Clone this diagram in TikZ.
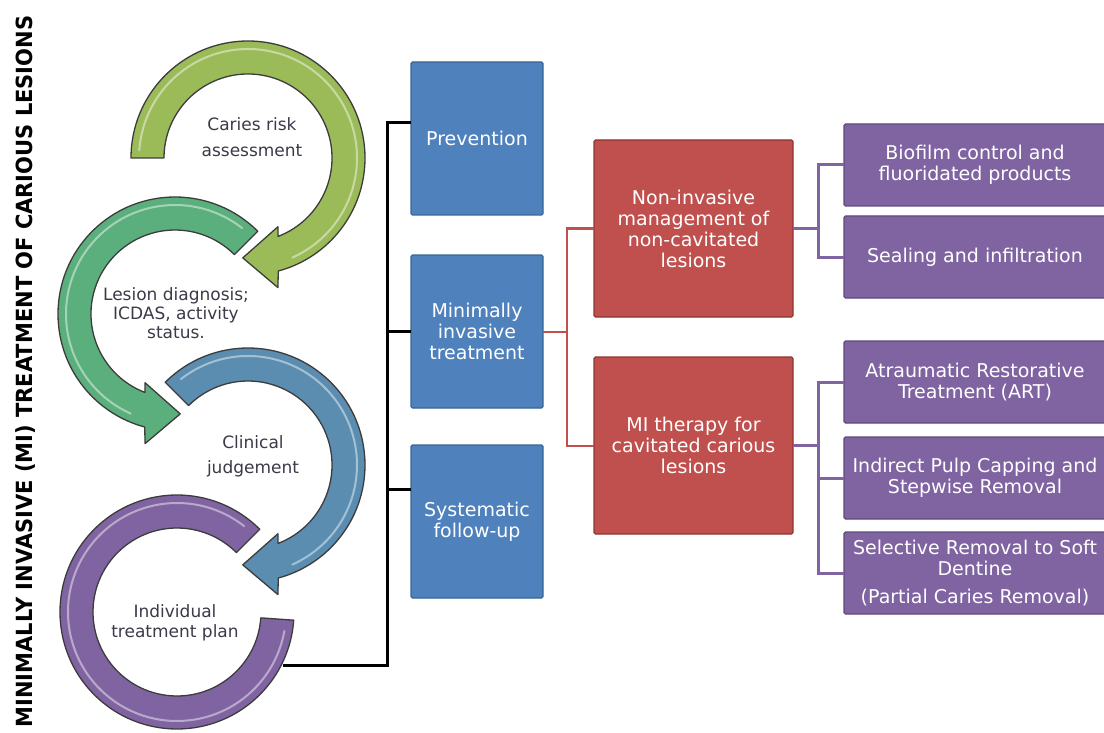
\documentclass[tikz,border=0pt]{standalone}
\usepackage{fontspec}
\setmainfont{DejaVu Sans}
\usetikzlibrary{calc}
\definecolor{ringA}{HTML}{9BBB59}
\definecolor{ringB}{HTML}{5BAF7D}
\definecolor{ringC}{HTML}{5B8DB0}
\definecolor{ringD}{HTML}{8064A2}
\definecolor{blueF}{HTML}{4F81BD}
\definecolor{blueD}{HTML}{3A6595}
\definecolor{redF}{HTML}{C0504D}
\definecolor{redD}{HTML}{8E3532}
\definecolor{purF}{HTML}{8064A2}
\definecolor{purD}{HTML}{5E4A7C}
\definecolor{lbl}{HTML}{3A3A48}
\definecolor{ringEdge}{HTML}{3C3C3C}
\begin{document}
\begin{tikzpicture}[x=1pt,y=1pt,
  ringshape/.style={draw=ringEdge, line width=1.3pt, line join=round},
  shine/.style={draw=white, line width=2pt, opacity=0.45, line cap=round},
  boxbase/.style={rectangle, inner sep=0pt, outer sep=0pt, line width=1.2pt, text=white, align=center, rounded corners=1.5pt,
    font=\fontsize{19}{21}\selectfont},
  bluebox/.style={boxbase, draw=blueD, fill=blueF, minimum width=132pt, minimum height=153pt, anchor=north west},
  redbox/.style={boxbase, draw=redD, fill=redF, minimum width=199pt, minimum height=177pt, anchor=north west},
  purbox/.style={boxbase, draw=purD, fill=purF, minimum width=262pt, minimum height=82pt, anchor=north west},
  lbltext/.style={text=lbl, align=center, inner sep=0pt},
  blk/.style={draw=black, line width=3pt},
  redl/.style={draw=redF, line width=2pt},
  purl/.style={draw=purF, line width=3pt}
]
\useasboundingbox (0,0) rectangle (1104,-733);

% title
\node[rotate=90, anchor=base, inner sep=0pt, font=\bfseries\fontsize{21}{21}\selectfont] (title) at (32,-371.5)
  {\scalebox{1}[1.06]{MINIMALLY INVASIVE (MI) TREATMENT OF CARIOUS LESIONS}};

% ring centres
\coordinate (cA) at (248,-158);
\coordinate (cB) at (175,-314);
\coordinate (cC) at (248,-465);
\coordinate (cD) at (177,-612);

% ring D (purple)
\path[ringshape, fill=ringD] ([shift={(45:117pt)}]cD) arc[start angle=45, end angle=356, radius=117pt]
  -- ([shift={(356:84pt)}]cD) arc[start angle=356, end angle=45, radius=84pt] -- cycle;
\draw[shine] ([shift={(52:109pt)}]cD) arc[start angle=52, end angle=350, radius=109pt];

% ring C (blue)
\path[ringshape, fill=ringC] ([shift={(135:117pt)}]cC) arc[start angle=135, end angle=-75, radius=117pt]
  -- ([shift={(-77:133pt)}]cC) -- ([shift={(-93:100pt)}]cC) -- ([shift={(-66.5:75pt)}]cC)
  -- ([shift={(-69:84pt)}]cC) arc[start angle=-69, end angle=135, radius=84pt] -- cycle;
\draw[shine] ([shift={(128:109pt)}]cC) arc[start angle=128, end angle=-66, radius=109pt];

% ring B (green)
\path[ringshape, fill=ringB] ([shift={(45:117pt)}]cB) arc[start angle=45, end angle=255, radius=117pt]
  -- ([shift={(257:133pt)}]cB) -- ([shift={(273:100pt)}]cB) -- ([shift={(246.5:75pt)}]cB)
  -- ([shift={(249:84pt)}]cB) arc[start angle=249, end angle=45, radius=84pt] -- cycle;
\draw[shine] ([shift={(52:109pt)}]cB) arc[start angle=52, end angle=246, radius=109pt];

% ring A (yellow green)
\path[ringshape, fill=ringA] ([shift={(180:117pt)}]cA) arc[start angle=180, end angle=-75, radius=117pt]
  -- ([shift={(-77:133pt)}]cA) -- ([shift={(-93:100pt)}]cA) -- ([shift={(-66.5:75pt)}]cA)
  -- ([shift={(-69:84pt)}]cA) arc[start angle=-69, end angle=180, radius=84pt] -- cycle;
\draw[shine] ([shift={(176:109pt)}]cA) arc[start angle=176, end angle=-66, radius=109pt];

% ring labels
\node[lbltext, font=\fontsize{17}{26}\selectfont] (la) at (252,-137) {Caries risk\\assessment};
\node[lbltext, font=\fontsize{17}{19}\selectfont] (lb) at (176,-313) {Lesion diagnosis;\\ICDAS, activity\\status.};
\node[lbltext, font=\fontsize{17}{25}\selectfont] (lc) at (253,-456) {Clinical\\judgement};
\node[lbltext, font=\fontsize{17}{20}\selectfont] (ld) at (175,-623) {Individual\\treatment plan};

% boxes
\node[bluebox] (prev) at (411,-62) {Prevention};
\node[bluebox] (mit) at (411,-255) {Minimally\\invasive\\treatment};
\node[bluebox] (sfu) at (411,-445) {Systematic\\follow-up};
\node[redbox] (nim) at (594,-140) {Non-invasive\\management of\\non-cavitated\\lesions};
\node[redbox] (mic) at (594,-357) {MI therapy for\\cavitated carious\\lesions};
\node[purbox] (bio) at (844,-124) {Biofilm control and\\fluoridated products};
\node[purbox] (seal) at (844,-216) {Sealing and infiltration};
\node[purbox] (art) at (844,-341) {Atraumatic Restorative\\Treatment (ART)};
\node[purbox] (ipc) at (844,-437) {Indirect Pulp Capping and\\Stepwise Removal};
\node[purbox] (sel) at (844,-532) {Selective Removal to Soft\\Dentine\\[7pt](Partial Caries Removal)};

% connectors
\coordinate (planend) at (283,-665);
\draw[blk, line join=miter] (planend) -| ([xshift=-24pt,yshift=15.5pt]prev.west) -- ([yshift=15.5pt]prev.west);
\draw[blk] ([xshift=-24pt]mit.west) -- (mit.west);
\draw[blk] ([xshift=-24pt,yshift=32.5pt]sfu.west) -- ([yshift=32.5pt]sfu.west);

\draw[redl] (mit.east) -- ++(24,0) |- (nim.west);
\draw[redl] (mit.east) ++(24,0) |- (mic.west);

\draw[purl] (nim.east) -- ++(25,0) |- (bio.west);
\draw[purl] (nim.east) ++(25,0) |- (seal.west);
\draw[purl] (mic.east) -- ++(25,0) |- (art.west);
\draw[purl] (mic.east) ++(25,0) |- (ipc.west);
\draw[purl] (mic.east) ++(25,0) |- (sel.west);
\end{tikzpicture}
\end{document}
